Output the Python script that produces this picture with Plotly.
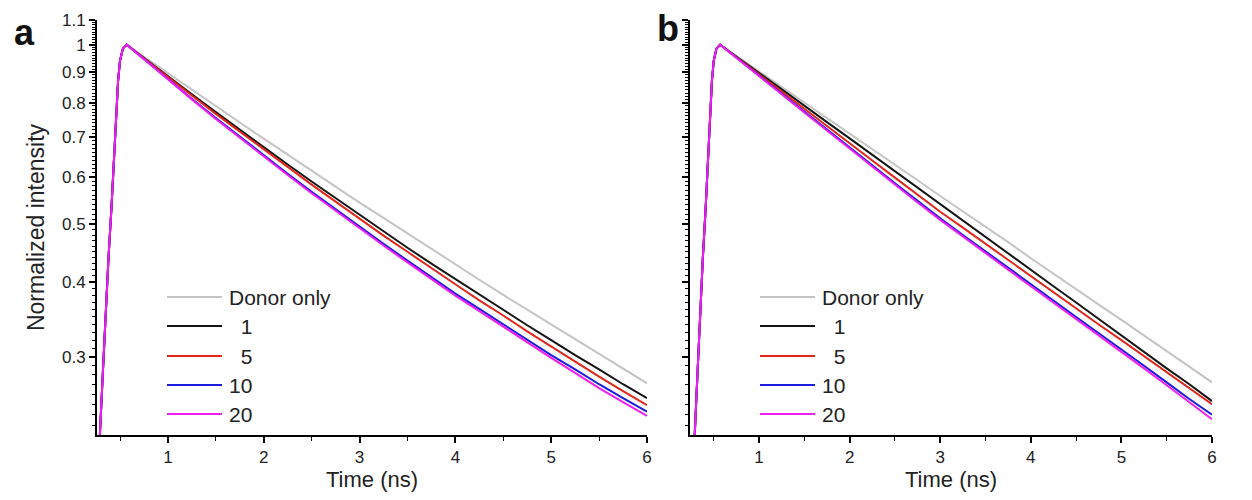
import plotly.graph_objects as go
import numpy as np

# ---------------- data ----------------
rise_t = [0.26, 0.29, 0.32, 0.35, 0.38, 0.41, 0.44, 0.46, 0.48, 0.50, 0.53, 0.57]
rise_v = [0.15, 0.222, 0.28, 0.36, 0.44, 0.53, 0.65, 0.76, 0.87, 0.94, 0.985, 1.00]

decay_t = [0.75, 1.0, 1.25, 1.5, 1.75, 2.0, 2.25, 2.5, 2.75, 3.0, 3.25, 3.5,
           3.75, 4.0, 4.25, 4.5, 4.75, 5.0, 5.25, 5.5, 5.75, 6.0]

# panel a
a_donor = [0.955, 0.895, 0.840, 0.789, 0.741, 0.696, 0.654, 0.615, 0.579, 0.544, 0.513, 0.483,
           0.455, 0.429, 0.404, 0.381, 0.360, 0.340, 0.321, 0.303, 0.287, 0.271]
a_1 = [0.950, 0.885, 0.826, 0.771, 0.720, 0.673, 0.630, 0.590, 0.553, 0.519, 0.487, 0.457,
       0.430, 0.405, 0.381, 0.359, 0.339, 0.320, 0.302, 0.286, 0.270, 0.256]
a_5 = [0.949, 0.883, 0.822, 0.766, 0.715, 0.667, 0.624, 0.583, 0.546, 0.511, 0.479, 0.450,
       0.422, 0.397, 0.373, 0.352, 0.331, 0.312, 0.295, 0.278, 0.263, 0.249]
a_10 = [0.946, 0.876, 0.812, 0.754, 0.701, 0.653, 0.608, 0.567, 0.530, 0.495, 0.464, 0.435,
        0.408, 0.383, 0.361, 0.340, 0.320, 0.302, 0.286, 0.270, 0.256, 0.243]
a_20 = [0.945, 0.874, 0.810, 0.751, 0.698, 0.650, 0.605, 0.564, 0.527, 0.492, 0.461, 0.432,
        0.405, 0.380, 0.358, 0.337, 0.317, 0.299, 0.282, 0.266, 0.252, 0.239]

# panel b
b_donor = [0.958, 0.902, 0.850, 0.800, 0.754, 0.710, 0.668, 0.630, 0.593, 0.558, 0.526, 0.495,
           0.467, 0.439, 0.414, 0.390, 0.367, 0.346, 0.326, 0.307, 0.289, 0.272]
b_1 = [0.955, 0.897, 0.842, 0.790, 0.742, 0.697, 0.654, 0.614, 0.576, 0.541, 0.508, 0.477,
       0.447, 0.420, 0.394, 0.370, 0.347, 0.326, 0.306, 0.287, 0.270, 0.253]
b_5 = [0.953, 0.892, 0.835, 0.781, 0.731, 0.684, 0.640, 0.599, 0.561, 0.525, 0.494, 0.464,
       0.436, 0.410, 0.385, 0.362, 0.340, 0.320, 0.301, 0.283, 0.266, 0.250]
b_10 = [0.951, 0.888, 0.828, 0.773, 0.721, 0.673, 0.628, 0.586, 0.547, 0.512, 0.480, 0.451,
        0.423, 0.397, 0.373, 0.350, 0.329, 0.309, 0.290, 0.272, 0.255, 0.240]
b_20 = [0.950, 0.886, 0.826, 0.770, 0.718, 0.670, 0.625, 0.583, 0.544, 0.509, 0.477, 0.448,
        0.420, 0.394, 0.370, 0.347, 0.326, 0.306, 0.287, 0.269, 0.252, 0.236]

series_names = ["Donor only", "1", "5", "10", "20"]
legend_labels = ["Donor only", "\u20071", "\u20075", "10", "20"]
colors = ["#c4c4c4", "#151515", "#e3261b", "#1c1ce0", "#f01ef0"]

y_ticks = [0.3, 0.4, 0.5, 0.6, 0.7, 0.8, 0.9, 1.0, 1.1]
y_ticktext = ["0.3", "0.4", "0.5", "0.6", "0.7", "0.8", "0.9", "1", "1.1"]
x_ticks = [1, 2, 3, 4, 5, 6]
x_minor = [0.5, 1.5, 2.5, 3.5, 4.5, 5.5]

# ---------------- figure ----------------
W, H = 1252, 500
FONT = "Liberation Sans, Arial, Helvetica, sans-serif"

fig = go.Figure()
panels = [([a_donor, a_1, a_5, a_10, a_20], "x", "y"),
          ([b_donor, b_1, b_5, b_10, b_20], "x2", "y2")]
for vals_list, xa, ya in panels:
    for name, col, vals in zip(series_names, colors, vals_list):
        fig.add_trace(go.Scatter(
            x=rise_t + decay_t, y=rise_v + vals, mode="lines", name=name,
            line=dict(color=col, width=2), showlegend=False, xaxis=xa, yaxis=ya))

minor_y = [round(v, 2) for v in np.arange(0.22, 1.101, 0.01) if round(v, 2) not in y_ticks]


def px_x(p):
    return p / W


def px_y(p):
    return 1 - p / H


y_top, y_bot = 20, 435
dom_y = [px_y(y_bot), px_y(y_top)]
yrange = [np.log10(0.222), np.log10(1.1)]

common_x = dict(
    tickmode="array", tickvals=x_ticks, ticks="outside", ticklen=6, tickwidth=1.5,
    tickcolor="black",
    minor=dict(tickmode="array", tickvals=x_minor, ticks="outside", ticklen=4,
               tickwidth=1.2, tickcolor="black", showgrid=False),
    showline=True, linecolor="black", linewidth=2, showgrid=False, zeroline=False,
    tickfont=dict(family=FONT, size=17, color="#222"), ticklabelstandoff=0,
    title=dict(text="Time (ns)", font=dict(family=FONT, size=22, color="#222"), standoff=2),
    automargin=False)
common_y = dict(
    type="log", range=yrange, domain=dom_y,
    tickmode="array", tickvals=y_ticks, ticktext=y_ticktext, ticks="outside", ticklen=6,
    tickwidth=1.5, tickcolor="black",
    minor=dict(tickmode="array", tickvals=minor_y, ticks="outside", ticklen=3,
               tickwidth=1, tickcolor="black", showgrid=False),
    showline=True, linecolor="black", linewidth=2, showgrid=False, zeroline=False,
    tickfont=dict(family=FONT, size=17, color="#222"), automargin=False)

fig.update_layout(
    template="none", width=W, height=H,
    margin=dict(l=0, r=0, t=0, b=0),
    paper_bgcolor="white", plot_bgcolor="white",
    xaxis=dict(domain=[px_x(97), px_x(647)], range=[0.26, 6.0], anchor="y", **common_x),
    xaxis2=dict(domain=[px_x(690), px_x(1212)], range=[0.238, 6.0], anchor="y2", **common_x),
    yaxis=dict(anchor="x",
               title=dict(text="Normalized intensity",
                          font=dict(family=FONT, size=23, color="#222"), standoff=11),
               **common_y),
    yaxis2=dict(anchor="x2", showticklabels=False, **common_y),
)

# legends drawn per panel
shapes = []
annotations = []
leg_y = [297, 326, 356, 385, 414]
for x0 in (167, 760):
    for lbl, col, yy in zip(legend_labels, colors, leg_y):
        shapes.append(dict(type="line", xref="paper", yref="paper",
                           x0=px_x(x0), x1=px_x(x0 + 55), y0=px_y(yy), y1=px_y(yy),
                           line=dict(color=col, width=2)))
        annotations.append(dict(xref="paper", yref="paper", x=px_x(x0 + 60), y=px_y(yy),
                                xanchor="left", yanchor="middle", text=lbl, showarrow=False,
                                font=dict(family=FONT, size=21, color="#222")))

annotations.append(dict(xref="paper", yref="paper", x=px_x(24), y=px_y(32), text="<b>a</b>",
                        showarrow=False, xanchor="center", yanchor="middle",
                        font=dict(family=FONT, size=36, color="#111")))
annotations.append(dict(xref="paper", yref="paper", x=px_x(668), y=px_y(28), text="<b>b</b>",
                        showarrow=False, xanchor="center", yanchor="middle",
                        font=dict(family=FONT, size=36, color="#111")))

fig.update_layout(shapes=shapes, annotations=annotations)
fig.write_html("out.html", config={"displayModeBar": False},
               post_script="document.body.style.margin='0';document.body.style.overflow='hidden';")
